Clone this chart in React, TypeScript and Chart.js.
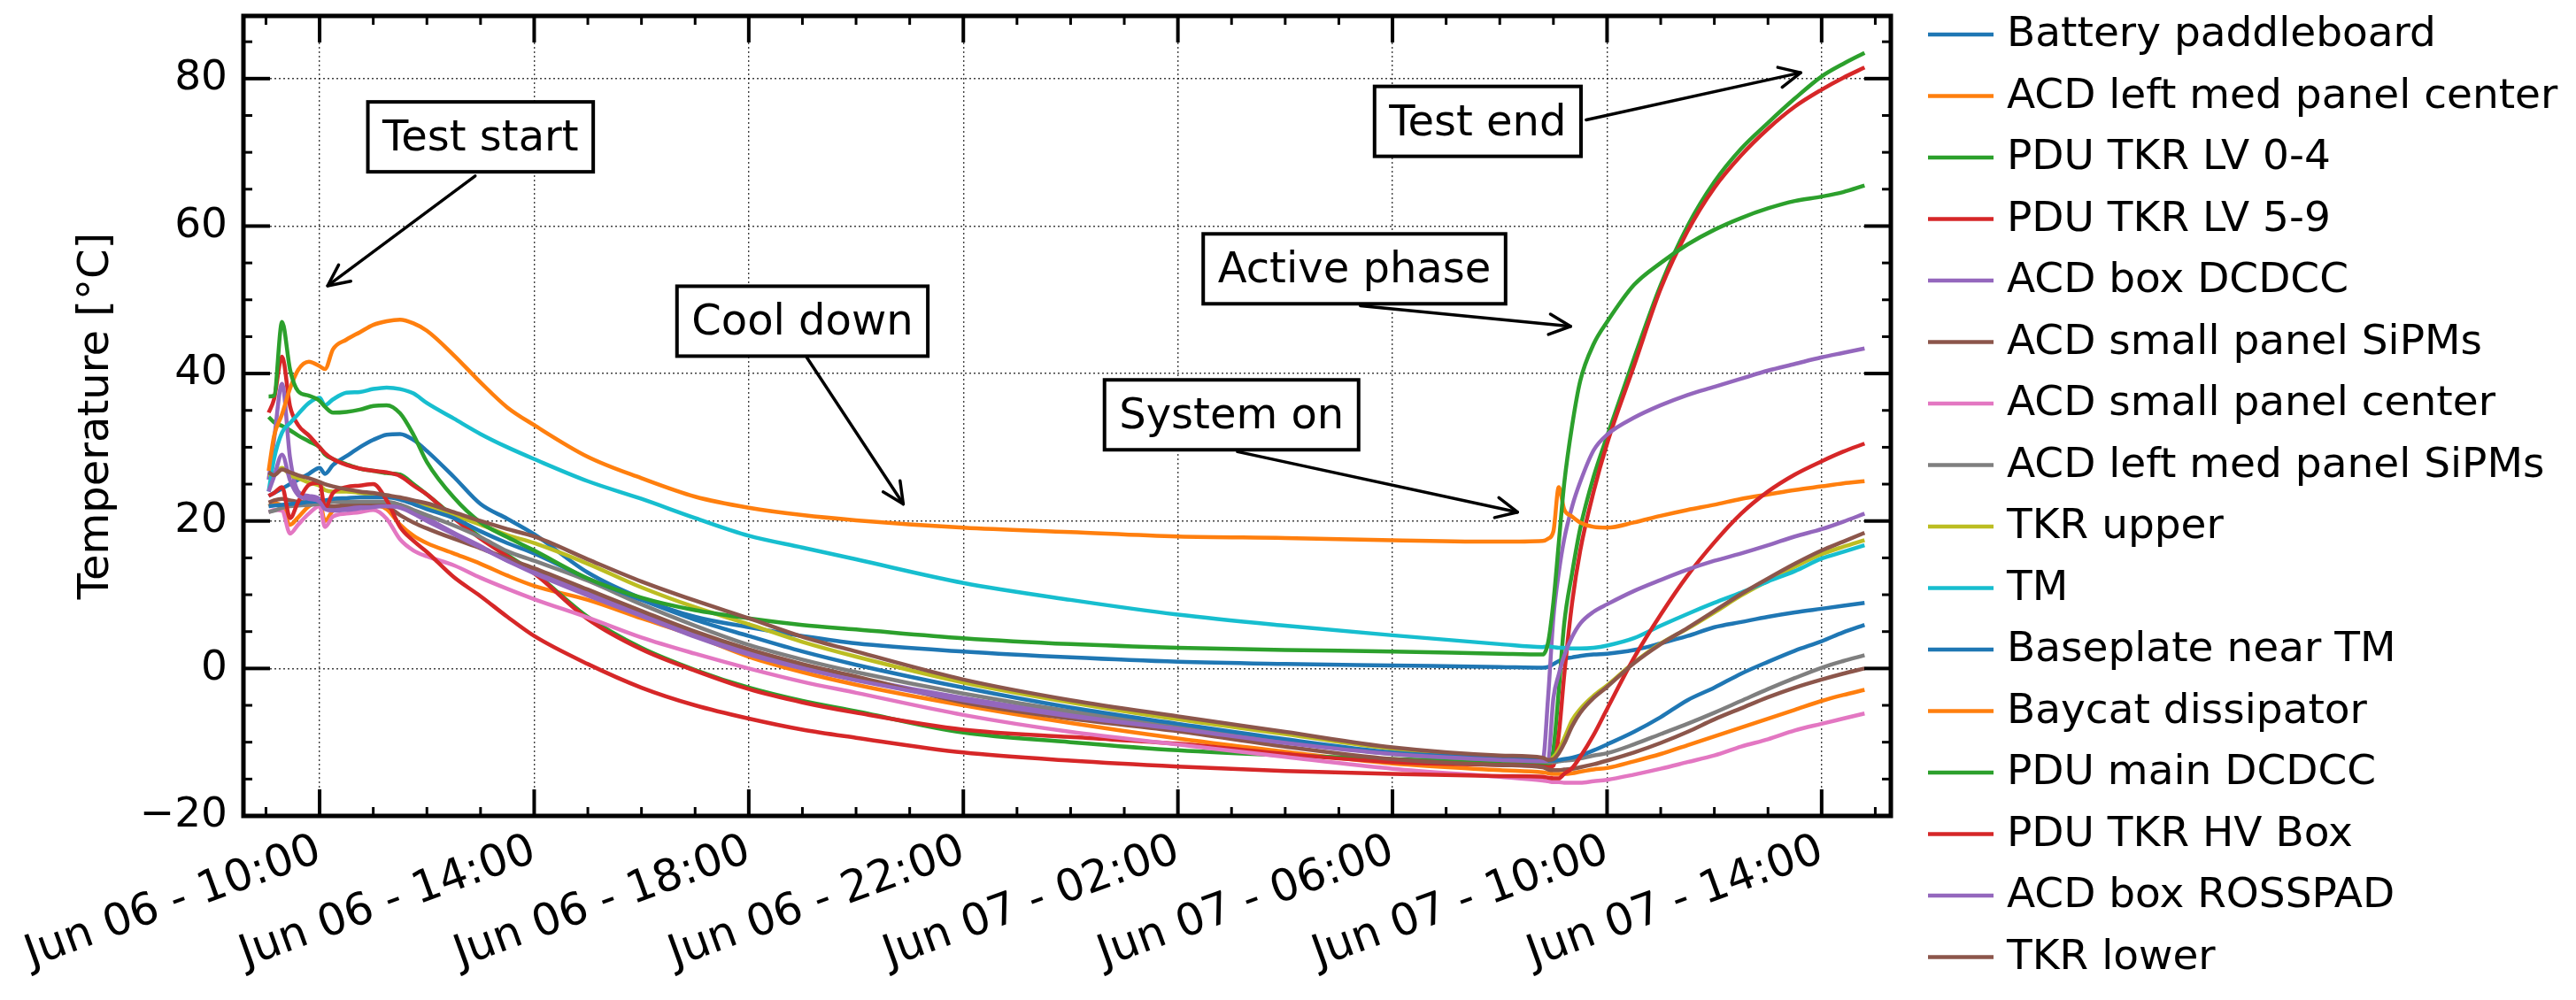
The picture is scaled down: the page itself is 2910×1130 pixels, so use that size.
import { useEffect, useRef } from "react"
import { Chart, registerables } from "chart.js"
import type { Plugin } from "chart.js"

Chart.register(...registerables)

const FONT = "DejaVu Sans"

// time of each sample, hours since Jun 06 00:00
const hours = [
	9.05, 9.15, 9.3, 9.45, 9.6, 9.8, 10.0, 10.1, 10.25, 10.5,
	10.75, 11.0, 11.25, 11.5, 11.75, 12.0, 12.5, 13.0, 13.5, 14.0,
	15.0, 16.0, 17.0, 18.0, 19.0, 20.0, 22.0, 24.0, 26.0, 28.0,
	30.0, 32.0, 32.8, 32.9, 33.0, 33.1, 33.2, 33.35, 33.5, 33.75,
	34.0, 34.5, 35.0, 35.5, 36.0, 36.5, 37.0, 37.5, 38.0, 38.4, 38.8,
]

const batteryPaddleboard = [
	23.4, 23.8, 24.4, 25.0, 25.6, 26.4, 27.2, 26.4, 27.6, 28.8,
	30.0, 31.0, 31.7, 31.8, 31.0, 29.5, 26.0, 22.3, 20.3, 18.2,
	13.0, 9.5, 7.0, 5.6, 4.4, 3.4, 2.3, 1.5, 0.9, 0.6,
	0.4, 0.2, 0.1, 0.2, 0.6, 1.0, 1.3, 1.5, 1.7, 1.9,
	2.0, 2.5, 3.4, 4.4, 5.6, 6.3, 7.0, 7.6, 8.1, 8.5, 8.9,
]
const acdLeftMedPanelCenter = [
	22.0, 22.4, 22.0, 19.5, 20.5, 22.0, 22.6, 20.0, 21.4, 21.8,
	22.0, 22.2, 21.6, 19.5, 18.0, 17.0, 15.6, 14.2, 12.6, 11.2,
	9.3, 6.8, 4.4, 1.6, -0.5, -2.2, -5.0, -7.4, -9.5, -11.3,
	-12.9, -13.8, -14.1, -14.2, -14.3, -14.3, -14.3, -14.2, -14.0, -13.7,
	-13.5, -12.6, -11.6, -10.4, -9.2, -8.0, -6.8, -5.6, -4.4, -3.6, -2.9,
]
const pduTkrLv04 = [
	34.1, 33.4, 32.9, 32.3, 31.6, 30.8, 30.0, 29.0, 28.4, 27.7,
	27.1, 26.8, 26.5, 26.3, 25.0, 23.6, 20.6, 17.8, 15.4, 13.0,
	7.0, 2.8, -0.2, -2.6, -4.4, -5.8, -8.7, -10.0, -11.1, -11.8,
	-12.3, -12.7, -13.0, -13.2, -11.0, -3.0, 6.0, 13.0, 19.0, 26.0,
	31.5, 42.0, 52.0, 60.0, 66.0, 70.5, 74.0, 77.3, 80.3, 82.0, 83.5,
]
const pduTkrLv59 = [
	34.7, 36.5, 42.3, 35.5, 33.0, 31.6, 30.0, 29.2, 28.4, 27.6,
	27.1, 26.8, 26.6, 26.1, 24.8, 23.6, 20.4, 17.6, 15.2, 12.9,
	6.7, 2.6, -0.3, -2.8, -4.6, -6.0, -8.3, -9.3, -10.2, -11.6,
	-12.7, -13.1, -13.3, -13.4, -13.2, -9.0, -1.0, 9.0, 16.0, 24.0,
	30.5, 41.0, 51.5, 59.3, 65.2, 69.6, 73.2, 76.2, 78.5, 80.1, 81.5,
]
const acdBoxDcdcc = [
	25.6, 31.0, 38.6, 28.5, 24.0, 23.4, 23.0, 22.0, 21.6, 21.8,
	22.0, 22.2, 22.4, 22.2, 21.4, 20.4, 18.4, 16.6, 14.6, 13.2,
	10.2, 7.4, 4.6, 2.2, 0.3, -1.3, -4.0, -6.2, -7.9, -9.9,
	-11.5, -12.3, -12.5, -4.0, 6.9, 13.0, 17.5, 22.0, 25.3, 29.6,
	31.7, 34.0, 35.7, 37.1, 38.2, 39.3, 40.4, 41.3, 42.2, 42.8, 43.4,
]
const acdSmallPanelSipms = [
	22.5, 22.8, 23.0, 22.8, 22.6, 22.5, 22.5, 22.0, 22.0, 22.2,
	22.4, 22.4, 22.0, 20.8, 19.8, 19.0, 17.6, 16.3, 14.9, 13.6,
	10.7, 7.8, 5.0, 2.6, 0.6, -1.1, -4.6, -6.8, -8.5, -10.6,
	-12.3, -13.1, -13.4, -13.7, -13.8, -13.8, -13.7, -13.6, -13.4, -13.0,
	-12.5, -11.4, -10.1, -8.6, -6.9, -5.4, -3.9, -2.6, -1.5, -0.7, 0.0,
]
const acdSmallPanelCenter = [
	21.2, 21.5, 21.4, 18.3, 19.5, 21.0, 22.0, 19.2, 20.6, 21.0,
	21.2, 21.5, 20.3, 17.5, 16.0, 15.2, 14.0, 12.3, 10.8, 9.4,
	6.9, 4.2, 2.0, 0.0, -1.8, -3.3, -6.3, -8.6, -10.3, -12.0,
	-13.6, -14.7, -15.2, -15.3, -15.4, -15.4, -15.5, -15.5, -15.5, -15.3,
	-15.1, -14.4, -13.6, -12.7, -11.8, -10.6, -9.6, -8.4, -7.5, -6.8, -6.1,
]
const acdLeftMedPanelSipms = [
	21.2, 21.4, 21.8, 22.0, 22.1, 22.2, 22.3, 22.4, 22.6, 22.6,
	22.6, 22.6, 22.6, 22.2, 21.5, 20.8, 19.4, 17.8, 15.9, 14.6,
	11.9, 8.7, 5.8, 3.2, 1.2, -0.5, -3.4, -5.8, -7.7, -9.8,
	-11.6, -12.4, -12.6, -12.7, -12.7, -12.6, -12.5, -12.4, -12.2, -11.8,
	-11.5, -10.3, -8.9, -7.5, -6.0, -4.4, -2.8, -1.3, 0.1, 1.0, 1.8,
]
const tkrUpper = [
	26.0, 26.4, 27.2, 26.2, 25.8, 25.2, 24.8, 24.2, 24.0, 24.0,
	23.8, 23.6, 23.4, 23.1, 22.6, 22.0, 20.8, 19.5, 18.1, 17.0,
	14.2, 11.0, 8.3, 6.0, 3.6, 1.6, -1.9, -4.6, -6.9, -8.9,
	-10.9, -11.9, -12.2, -12.4, -12.0, -11.0, -9.5, -7.0, -5.5, -3.7,
	-2.3, 0.8, 3.4, 5.4, 7.6, 9.9, 11.9, 13.8, 15.5, 16.5, 17.4,
]
const tm = [
	24.0, 28.4, 32.0, 33.3, 34.5, 36.0, 36.7, 35.7, 36.5, 37.4,
	37.5, 37.9, 38.1, 37.9, 37.3, 36.0, 33.9, 31.8, 30.0, 28.4,
	25.4, 23.0, 20.4, 18.0, 16.4, 14.8, 11.6, 9.3, 7.3, 5.8,
	4.5, 3.3, 2.9, 3.0, 2.9, 2.8, 2.8, 2.7, 2.7, 2.8,
	3.1, 4.1, 5.8, 7.4, 8.9, 10.3, 11.8, 13.2, 14.9, 15.8, 16.7,
]
const baseplateNearTm = [
	22.0, 22.1, 22.2, 22.3, 22.4, 22.6, 22.7, 22.8, 23.0, 23.1,
	23.2, 23.2, 23.2, 22.9, 22.3, 21.6, 20.4, 18.6, 17.0, 15.6,
	12.2, 9.3, 6.6, 4.4, 2.3, 0.5, -2.6, -5.3, -7.5, -9.6,
	-11.4, -12.2, -12.4, -12.5, -12.5, -12.4, -12.3, -12.1, -11.8, -11.1,
	-10.3, -8.6, -6.6, -4.3, -2.6, -0.7, 0.9, 2.4, 3.7, 4.9, 5.9,
]
const baycatDissipator = [
	26.8, 31.5, 34.5, 38.0, 40.5, 41.6, 41.0, 40.6, 43.3, 44.6,
	45.6, 46.6, 47.1, 47.3, 46.8, 45.8, 42.5, 38.8, 35.4, 33.0,
	28.7, 25.8, 23.3, 21.8, 20.8, 20.1, 19.1, 18.5, 17.9, 17.7,
	17.4, 17.2, 17.3, 17.6, 18.6, 24.6, 21.6, 20.6, 19.8, 19.2,
	19.1, 19.8, 20.7, 21.5, 22.2, 23.0, 23.6, 24.2, 24.7, 25.1, 25.4,
]
const pduMainDcdcc = [
	36.9, 37.0, 47.0, 40.5, 37.6, 37.0, 36.3, 35.5, 34.7, 34.8,
	35.1, 35.6, 35.7, 34.6, 31.7, 28.0, 23.2, 19.8, 17.8, 16.0,
	12.2, 9.6, 7.9, 6.8, 5.9, 5.3, 4.1, 3.3, 2.8, 2.5,
	2.3, 2.0, 1.9, 3.5, 9.0, 17.0, 25.0, 33.0, 39.0, 44.0,
	47.0, 52.0, 55.0, 57.5, 59.5, 61.1, 62.4, 63.4, 64.0, 64.6, 65.5,
]
const pduTkrHvBox = [
	23.4, 23.8, 24.6, 20.4, 22.6, 24.9, 25.2, 21.8, 23.8, 24.6,
	24.8, 25.0, 22.8, 19.2, 17.3, 15.8, 12.4, 9.8, 7.0, 4.4,
	0.6, -2.6, -5.0, -6.8, -8.3, -9.4, -11.4, -12.5, -13.3, -13.9,
	-14.3, -14.6, -14.7, -14.8, -14.9, -14.9, -14.3, -13.5, -12.0, -9.0,
	-5.5, 1.4, 7.3, 12.6, 17.1, 21.0, 24.0, 26.3, 28.1, 29.4, 30.5,
]
const acdBoxRosspad = [
	24.0, 26.0, 29.0, 25.5, 23.5, 23.0, 22.6, 21.6, 21.4, 21.5,
	21.7, 21.9, 22.0, 21.8, 21.0, 20.0, 18.2, 16.4, 14.6, 12.9,
	9.9, 7.1, 4.3, 1.9, 0.0, -1.6, -4.3, -6.5, -8.2, -10.1,
	-11.6, -12.4, -12.6, -12.4, -4.0, -0.8, 1.7, 4.3, 6.1, 7.7,
	8.7, 10.5, 12.0, 13.4, 14.6, 15.6, 16.7, 17.9, 18.9, 19.9, 21.0,
]
const tkrLower = [
	26.6, 26.2, 27.0, 26.6, 26.2, 25.8, 25.3, 25.0, 24.7, 24.3,
	24.0, 23.8, 23.5, 23.2, 22.8, 22.4, 21.2, 20.0, 18.9, 17.9,
	14.8, 11.8, 9.2, 6.8, 4.3, 2.3, -1.5, -4.3, -6.5, -8.6,
	-10.7, -11.8, -12.1, -12.4, -12.3, -11.5, -10.2, -7.8, -6.0, -4.0,
	-2.5, 0.7, 3.3, 5.5, 7.8, 10.1, 12.2, 14.2, 16.0, 17.2, 18.4,
]

const seriesLabels = [
	"Battery paddleboard",
	"ACD left med panel center",
	"PDU TKR LV 0-4",
	"PDU TKR LV 5-9",
	"ACD box DCDCC",
	"ACD small panel SiPMs",
	"ACD small panel center",
	"ACD left med panel SiPMs",
	"TKR upper",
	"TM",
	"Baseplate near TM",
	"Baycat dissipator",
	"PDU main DCDCC",
	"PDU TKR HV Box",
	"ACD box ROSSPAD",
	"TKR lower",
]
const seriesValues = [
	batteryPaddleboard, acdLeftMedPanelCenter, pduTkrLv04, pduTkrLv59,
	acdBoxDcdcc, acdSmallPanelSipms, acdSmallPanelCenter, acdLeftMedPanelSipms,
	tkrUpper, tm, baseplateNearTm, baycatDissipator,
	pduMainDcdcc, pduTkrHvBox, acdBoxRosspad, tkrLower,
]

// matplotlib tab10 cycle
const palette = [
	"#1f77b4", "#ff7f0e", "#2ca02c", "#d62728", "#9467bd",
	"#8c564b", "#e377c2", "#7f7f7f", "#bcbd22", "#17becf",
]

const xTickHours = [10, 14, 18, 22, 26, 30, 34, 38]
const yTickValues = [-20, 0, 20, 40, 60, 80]

// annotations: text, box centre, arrow tail, arrow head (data coords)
const noteTexts = ["Test start", "Cool down", "System on", "Active phase", "Test end"]
const noteBoxAt = [[13.0, 72.1], [19.0, 47.1], [27.0, 34.4], [29.29, 54.2], [31.59, 74.2]]
const noteArrowFrom = [[12.9, 66.8], [19.08, 42.2], [27.11, 29.4], [29.4, 49.2], [33.61, 74.4]]
const noteArrowTo = [[10.15, 51.9], [20.88, 22.3], [32.33, 21.2], [33.32, 46.4], [37.61, 80.8]]

function hourLabel(h: number): string {
	const day = 6 + Math.floor(h / 24)
	const hh = Math.round(h % 24)
	return `Jun ${String(day).padStart(2, "0")} - ${String(hh).padStart(2, "0")}:00`
}

function line(ctx: CanvasRenderingContext2D, x1: number, y1: number, x2: number, y2: number) {
	ctx.beginPath()
	ctx.moveTo(x1, y1)
	ctx.lineTo(x2, y2)
	ctx.stroke()
}

// inward ticks on all four sides plus the thick frame
const framePlugin: Plugin<"line"> = {
	id: "frame",
	afterDatasetsDraw(chart) {
		const { ctx, chartArea: a } = chart
		const x = chart.scales.x
		const y = chart.scales.y
		ctx.save()
		ctx.strokeStyle = "#000"
		for (let h = Math.ceil(x.min); h <= x.max; h++) {
			const major = xTickHours.includes(h)
			const len = major ? 30 : 10
			ctx.lineWidth = major ? 4 : 3
			const px = x.getPixelForValue(h)
			line(ctx, px, a.bottom, px, a.bottom - len)
			line(ctx, px, a.top, px, a.top + len)
		}
		for (let v = Math.ceil(y.min / 5) * 5; v <= y.max; v += 5) {
			const major = yTickValues.includes(v)
			const len = major ? 30 : 10
			ctx.lineWidth = major ? 4 : 3
			const py = y.getPixelForValue(v)
			line(ctx, a.left, py, a.left + len, py)
			line(ctx, a.right, py, a.right - len, py)
		}
		ctx.lineWidth = 5
		ctx.strokeRect(a.left, a.top, a.right - a.left, a.bottom - a.top)
		ctx.restore()
	},
}

const notesPlugin: Plugin<"line"> = {
	id: "notes",
	afterDraw(chart) {
		const { ctx } = chart
		const x = chart.scales.x
		const y = chart.scales.y
		ctx.save()
		ctx.font = `48px "${FONT}"`
		noteTexts.forEach((text, i) => {
			const cx = x.getPixelForValue(noteBoxAt[i][0])
			const cy = y.getPixelForValue(noteBoxAt[i][1])
			const tx = x.getPixelForValue(noteArrowFrom[i][0])
			const ty = y.getPixelForValue(noteArrowFrom[i][1])
			const hx = x.getPixelForValue(noteArrowTo[i][0])
			const hy = y.getPixelForValue(noteArrowTo[i][1])

			ctx.strokeStyle = "#000"
			ctx.lineWidth = 3.5
			ctx.lineCap = "round"
			ctx.lineJoin = "round"
			line(ctx, tx, ty, hx, hy)
			const ang = Math.atan2(hy - ty, hx - tx)
			const hl = 24
			const hw = 11.5
			const bx = hx - hl * Math.cos(ang)
			const by = hy - hl * Math.sin(ang)
			ctx.beginPath()
			ctx.moveTo(bx - hw * Math.sin(ang), by + hw * Math.cos(ang))
			ctx.lineTo(hx, hy)
			ctx.lineTo(bx + hw * Math.sin(ang), by - hw * Math.cos(ang))
			ctx.stroke()

			const w = ctx.measureText(text).width + 33
			const h = 79
			ctx.lineCap = "butt"
			ctx.lineJoin = "miter"
			ctx.fillStyle = "#fff"
			ctx.fillRect(cx - w / 2, cy - h / 2, w, h)
			ctx.lineWidth = 4
			ctx.strokeRect(cx - w / 2, cy - h / 2, w, h)
			ctx.fillStyle = "#000"
			ctx.textAlign = "center"
			ctx.textBaseline = "alphabetic"
			ctx.fillText(text, cx, cy + 15.5)
		})
		ctx.restore()
	},
}

const legendPlugin: Plugin<"line"> = {
	id: "sideLegend",
	afterDraw(chart) {
		const { ctx, chartArea: a } = chart
		ctx.save()
		ctx.font = `47px "${FONT}"`
		ctx.textAlign = "left"
		ctx.textBaseline = "middle"
		chart.data.datasets.forEach((ds, i) => {
			const cy = 39 + i * 69.5
			ctx.strokeStyle = ds.borderColor as string
			ctx.lineWidth = 4.5
			line(ctx, a.right + 42, cy, a.right + 116, cy)
			ctx.fillStyle = "#000"
			ctx.fillText(ds.label ?? "", a.right + 131, cy + 1)
		})
		ctx.restore()
	},
}

export default function App() {
	const canvasRef = useRef<HTMLCanvasElement>(null)

	useEffect(() => {
		if (!canvasRef.current) return
		const ctx = canvasRef.current.getContext("2d")
		if (!ctx) return

		const gridStyle = { color: "rgba(0,0,0,0.75)", lineWidth: 1.4, drawTicks: false }
		const borderStyle = { display: false, dash: [2, 3] }

		const chart = new Chart(ctx, {
			type: "line",
			data: {
				datasets: seriesLabels.map((label, i) => ({
					label,
					data: hours.map((h, j) => ({ x: h, y: seriesValues[i][j] })),
					borderColor: palette[i % palette.length],
					backgroundColor: palette[i % palette.length],
					borderWidth: 4.5,
					pointRadius: 0,
					cubicInterpolationMode: "monotone" as const,
					fill: false,
					order: seriesLabels.length - i,
				})),
			},
			options: {
				animation: false,
				responsive: true,
				maintainAspectRatio: false,
				devicePixelRatio: 1,
				layout: { padding: { top: 18, right: 774, left: 0, bottom: 0 } },
				plugins: {
					legend: { display: false },
					tooltip: { enabled: false },
				},
				scales: {
					x: {
						type: "linear",
						min: 8.58,
						max: 39.29,
						afterBuildTicks: (s) => {
							s.ticks = xTickHours.map((value) => ({ value }))
						},
						afterFit: (s) => {
							s.height = 208
							s.paddingLeft = 0
							s.paddingRight = 0
						},
						grid: gridStyle,
						border: borderStyle,
						ticks: {
							autoSkip: false,
							minRotation: 20,
							maxRotation: 20,
							padding: 10,
							color: "#000",
							font: { family: FONT, size: 50 },
							callback: (v) => hourLabel(Number(v)),
						},
					},
					y: {
						type: "linear",
						min: -20,
						max: 88.5,
						afterBuildTicks: (s) => {
							s.ticks = yTickValues.map((value) => ({ value }))
						},
						afterFit: (s) => {
							s.width = 275
							s.paddingTop = 0
							s.paddingBottom = 0
						},
						grid: gridStyle,
						border: borderStyle,
						title: {
							display: true,
							text: "Temperature [°C]",
							color: "#000",
							font: { family: FONT, size: 48, lineHeight: 1 },
							padding: { top: 86, bottom: 0 },
						},
						ticks: {
							padding: 18,
							color: "#000",
							font: { family: FONT, size: 47 },
							callback: (v) => {
								const n = Number(v)
								return n < 0 ? `\u2212${Math.abs(n)}` : String(n)
							},
						},
					},
				},
			},
			plugins: [framePlugin, legendPlugin, notesPlugin],
		})

		return () => {
			chart.destroy()
		}
	}, [])

	return (
		<div style={{ position: "fixed", left: 0, top: 0, width: 2910, height: 1130, background: "#fff" }}>
			<canvas ref={canvasRef} />
		</div>
	)
}
